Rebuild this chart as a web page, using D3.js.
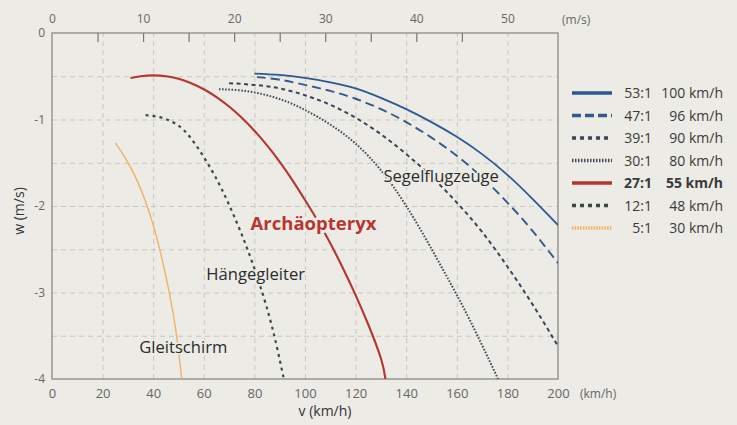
<!DOCTYPE html>
<html>
<head>
<meta charset="utf-8">
<script src="https://d3js.org/d3.v7.min.js"></script>
<style>
    body { margin: 0; background: #ecebe6; }
    svg { font-family: "Open Sans", sans-serif; display: block; }
    .grid line { stroke: #c9c7c0; stroke-dasharray: 5,4; }
    .grid path { display: none; }
    .axis path { display: none; }
    .axis text { fill: #666; }
    .frame { fill: none; stroke: #8a8a88; stroke-width: 1.3; }
    .curve { fill: none; }
    .halo { paint-order: stroke; stroke: #ecebe6; stroke-linejoin: round; }
</style>
</head>
<body>
<svg id="chart" width="737" height="425"></svg>
<script>
// glide polars: [v in km/h, w in m/s]
var polar53 = [[80,-0.47],[90,-0.485],[100,-0.52],[110,-0.57],[120,-0.64],[130,-0.75],[140,-0.88],[150,-1.03],[160,-1.20],[170,-1.40],[180,-1.64],[190,-1.92],[200,-2.22]];
var polar47 = [[81,-0.51],[90,-0.54],[100,-0.60],[110,-0.67],[120,-0.76],[130,-0.88],[140,-1.03],[150,-1.21],[160,-1.42],[170,-1.67],[180,-1.96],[190,-2.29],[200,-2.66]];
var polar39 = [[70,-0.58],[80,-0.60],[90,-0.64],[100,-0.72],[110,-0.83],[120,-0.98],[130,-1.17],[140,-1.40],[150,-1.66],[160,-1.96],[170,-2.30],[180,-2.70],[190,-3.14],[200,-3.62]];
var polar30 = [[66,-0.65],[75,-0.665],[85,-0.72],[95,-0.82],[105,-0.97],[115,-1.16],[125,-1.42],[135,-1.78],[145,-2.24],[155,-2.76],[165,-3.31],[176.3,-4.0]];
var polar27 = [[31,-0.52],[35,-0.50],[40,-0.49],[45,-0.50],[50,-0.53],[55,-0.58],[60,-0.65],[65,-0.74],[70,-0.85],[75,-0.98],[80,-1.13],[85,-1.30],[90,-1.49],[95,-1.70],[100,-1.93],[105,-2.17],[110,-2.43],[115,-2.72],[120,-3.03],[125,-3.37],[130,-3.76],[131.8,-4.0]];
var polar12 = [[37,-0.95],[42,-0.97],[47,-1.02],[52,-1.12],[57,-1.30],[62,-1.53],[67,-1.80],[72,-2.12],[77,-2.48],[82,-2.90],[87,-3.40],[91.5,-3.98]];
var polar5 = [[25,-1.27],[28,-1.40],[31,-1.55],[34,-1.73],[37,-1.95],[40,-2.22],[43,-2.55],[46,-2.95],[49,-3.45],[51.3,-4.0]];

var ratios = ["53:1", "47:1", "39:1", "30:1", "27:1", "12:1", "5:1"];
var speeds = ["100 km/h", "96 km/h", "90 km/h", "80 km/h", "55 km/h", "48 km/h", "30 km/h"];
var polars = [polar53, polar47, polar39, polar30, polar27, polar12, polar5];

var kmhTicks = [0, 20, 40, 60, 80, 100, 120, 140, 160, 180, 200];
var msTicks = [0, 10, 20, 30, 40, 50];
var msMinor = [5, 10, 15, 20, 25, 30, 35, 40, 45];
var wTicks = [0, -1, -2, -3, -4];
var wGrid = [-0.5, -1, -1.5, -2, -2.5, -3, -3.5];

var groupLabels = ["Segelflugzeuge", "Hängegleiter", "Gleitschirm"];
var groupPos = [[131, -1.72], [61, -2.85], [34.5, -3.7]];

// styles per series, same order as ratios
var styles = [
    {color: "#2d5891", dash: null, w: 1.8, lw: 3.5, ld: null},
    {color: "#35598a", dash: "9,5", w: 1.9, lw: 3.5, ld: "9,4"},
    {color: "#39455a", dash: "4,3.5", w: 2, lw: 3.5, ld: "4,4"},
    {color: "#444c5c", dash: "1.6,1.6", w: 2, lw: 3.5, ld: "1.5,1.5"},
    {color: "#b5352f", dash: null, w: 2.1, lw: 3.5, ld: null},
    {color: "#3c4a42", dash: "3,4", w: 2.2, lw: 3.5, ld: "4,4"},
    {color: "#f0b366", dash: null, w: 1.4, lw: 3.5, ld: "1.5,1.2"}
];

var pl = 52, pr = 558, pt = 33, pb = 379;

var x = d3.scaleLinear().domain([0, 200]).range([pl, pr]);
var xTop = d3.scaleLinear().domain([0, 200 / 3.6]).range([pl, pr]);
var y = d3.scaleLinear().domain([0, -4]).range([pt, pb]);

var svg = d3.select("#chart");

svg.append("defs").append("clipPath").attr("id", "plot")
    .append("rect").attr("x", pl).attr("y", pt)
    .attr("width", pr - pl).attr("height", pb - pt);

// grid
svg.append("g").attr("class", "grid")
    .attr("transform", "translate(0," + pb + ")")
    .call(d3.axisBottom(x).tickValues(kmhTicks.slice(1, -1)).tickSize(-(pb - pt)).tickFormat(""));
svg.append("g").attr("class", "grid")
    .attr("transform", "translate(" + pl + ",0)")
    .call(d3.axisLeft(y).tickValues(wGrid).tickSize(-(pr - pl)).tickFormat(""));

svg.append("rect").attr("class", "frame")
    .attr("x", pl).attr("y", pt)
    .attr("width", pr - pl).attr("height", pb - pt);

// top minor tick marks (m/s)
svg.append("g").attr("class", "axis")
    .attr("transform", "translate(0," + pt + ")")
    .call(d3.axisTop(xTop).tickValues(msMinor).tickSize(-9).tickFormat(""))
    .selectAll("line").attr("stroke", "#777").attr("stroke-width", 1.2);

// axis labels
svg.append("g").attr("class", "axis")
    .attr("transform", "translate(0," + pb + ")")
    .style("font-size", "13px")
    .call(d3.axisBottom(x).tickValues(kmhTicks).tickSize(0).tickPadding(10));
svg.append("g").attr("class", "axis")
    .attr("transform", "translate(0," + pt + ")")
    .style("font-size", "12px")
    .call(d3.axisTop(xTop).tickValues(msTicks).tickSize(0).tickPadding(10));
svg.append("g").attr("class", "axis")
    .attr("transform", "translate(" + pl + ",0)")
    .style("font-size", "12px")
    .call(d3.axisLeft(y).tickValues(wTicks).tickSize(0).tickPadding(7).tickFormat(d => String(d)));

svg.selectAll(".axis text").attr("font-family", "Open Sans");

svg.append("text").attr("x", 580).attr("y", 398)
    .style("font-size", "12px").attr("fill", "#666").text("(km/h)");
svg.append("text").attr("x", 562).attr("y", 24)
    .style("font-size", "12px").attr("fill", "#666").text("(m/s)");
svg.append("text").attr("x", 325).attr("y", 416).attr("text-anchor", "middle")
    .style("font-size", "14px").attr("fill", "#333").text("v (km/h)");
svg.append("text").attr("transform", "translate(24,211) rotate(-90)").attr("text-anchor", "middle")
    .style("font-size", "14px").attr("fill", "#333").text("w (m/s)");

// curves
var line = d3.line()
    .x(d => x(d[0]))
    .y(d => y(d[1]))
    .curve(d3.curveNatural);

var curves = svg.append("g").attr("clip-path", "url(#plot)");
curves.selectAll("path")
    .data(polars)
    .enter().append("path")
    .attr("class", "curve")
    .attr("d", line)
    .attr("stroke", (d, i) => styles[i].color)
    .attr("stroke-width", (d, i) => styles[i].w)
    .attr("stroke-dasharray", (d, i) => styles[i].dash);

// group labels
svg.selectAll(".glabel")
    .data(groupLabels)
    .enter().append("text")
    .attr("class", "glabel halo")
    .attr("x", (d, i) => x(groupPos[i][0]))
    .attr("y", (d, i) => y(groupPos[i][1]))
    .style("font-size", "16.6px")
    .style("stroke-width", "3px")
    .attr("fill", "#2b2b2b")
    .text(d => d);

svg.append("text")
    .attr("class", "halo")
    .attr("x", x(78.5)).attr("y", y(-2.28))
    .style("font-size", "18.5px").style("font-weight", "bold")
    .style("stroke-width", "6px")
    .attr("fill", "#b8362f")
    .text("Archäopteryx");

// legend
var ly = d3.scaleLinear().domain([0, ratios.length - 1]).range([93, 228]);
var legend = svg.selectAll(".legend")
    .data(ratios)
    .enter().append("g")
    .attr("class", "legend")
    .attr("transform", (d, i) => "translate(0," + ly(i) + ")");

legend.append("line")
    .attr("x1", 572).attr("x2", 612)
    .attr("stroke", (d, i) => styles[i].color)
    .attr("stroke-width", (d, i) => styles[i].lw)
    .attr("stroke-dasharray", (d, i) => styles[i].ld);

legend.append("text")
    .attr("x", 652).attr("y", 5).attr("text-anchor", "end")
    .style("font-size", "14px")
    .style("font-weight", d => d === "27:1" ? "bold" : null)
    .attr("fill", "#3a3a3a")
    .text(d => d);

legend.append("text")
    .attr("x", 723).attr("y", 5).attr("text-anchor", "end")
    .style("font-size", "14px")
    .style("font-weight", (d, i) => i === 4 ? "bold" : null)
    .attr("fill", "#3a3a3a")
    .text((d, i) => speeds[i]);
</script>
</body>
</html>
